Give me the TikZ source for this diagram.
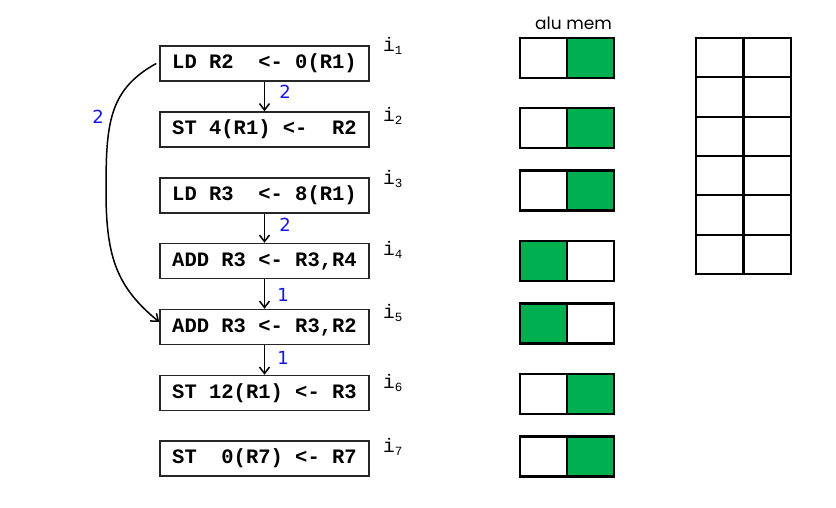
\documentclass[tikz,border=0pt]{standalone}
\usepackage{fontspec}
\setmainfont{Liberation Serif}
\setmonofont{Liberation Mono}
\newfontfamily\labfont{DejaVu Sans}
\newfontfamily\hdrfont{Poppins}
\usetikzlibrary{arrows.meta}
\definecolor{ggreen}{HTML}{00B050}
\definecolor{lblue}{HTML}{1414F0}
\newcommand{\isub}[1]{\texttt{i}\raisebox{-3.5pt}{\fontsize{12.5}{12.5}\selectfont #1}}
\begin{document}
\begin{tikzpicture}[x=1pt,y=-1pt,
 instr/.style={draw=black!85, line width=1.5pt, rectangle, minimum width=209pt, minimum height=35pt, inner sep=0pt, text height=14pt, text depth=4pt, font=\fontsize{20.5}{24}\selectfont\ttfamily\bfseries},
 dep/.style={line width=1.5pt, -{Straight Barb[length=6.5pt,width=10pt,line width=1.5pt]}},
 lat/.style={font=\fontsize{18}{20}\selectfont\labfont, text=lblue, inner sep=0pt},
 ilab/.style={anchor=base west, inner sep=0pt, font=\fontsize{19.5}{20}\selectfont\ttfamily},
 cell/.style={draw=black, line width=2.2pt, rectangle, minimum width=47pt, minimum height=40pt, inner sep=0pt},
 gcell/.style={draw=black, line width=2.2pt, rectangle, minimum width=47.5pt, minimum height=39.33pt, inner sep=0pt},
 green/.style={fill=ggreen},
]
\useasboundingbox[fill=white] (0,0) rectangle (836,507);

% instruction boxes
\node[instr] (i1) at (264.5,63.5) {LD R2\ \ <- 0(R1)};
\node[instr] (i2) at (264.5,129.5) {ST 4(R1) <-\ \ R2};
\node[instr] (i3) at (264.5,195.5) {LD R3\ \ <- 8(R1)};
\node[instr] (i4) at (264.5,261) {ADD R3 <- R3,R4};
\node[instr] (i5) at (264.5,327) {ADD R3 <- R3,R2};
\node[instr] (i6) at (264.5,393) {ST 12(R1) <- R3};
\node[instr] (i7) at (264.5,458.5) {ST\ \ 0(R7) <- R7};

% instruction labels
\node[ilab] (l1) at (383,51) {\isub{1}};
\node[ilab] (l2) at (383,121) {\isub{2}};
\node[ilab] (l3) at (383,184) {\isub{3}};
\node[ilab] (l4) at (383,255) {\isub{4}};
\node[ilab] (l5) at (383,318) {\isub{5}};
\node[ilab] (l6) at (383,388) {\isub{6}};
\node[ilab] (l7) at (383,452) {\isub{7}};

% dependences
\draw[dep] (i1.south) -- (i2.north);
\draw[dep] (i3.south) -- (i4.north);
\draw[dep] (i4.south) -- (i5.north);
\draw[dep] (i5.south) -- (i6.north);
\node[lat] (d1) at (285,92) {2};
\node[lat] (d2) at (285,225) {2};
\node[lat] (d3) at (283,295) {1};
\node[lat] (d4) at (283,358) {1};

\coordinate (cm) at (106,192);
\draw[dep] ([xshift=-3pt]i1.west) .. controls (108,90) and (106,125) .. (cm)
  .. controls (106,259) and (118,288) .. ([yshift=5pt]i5.west);
\node[lat] (d5) at (98,116.5) {2};

% resource header
\node[anchor=base, inner sep=0pt, font=\fontsize{17}{20}\selectfont\hdrfont] (hdr) at (573.5,29) {alu mem};

% resource usage per instruction
\node[cell] (a1) at (543.5,58) {};   \node[cell,green] (m1) at (590.5,58) {};
\node[cell] (a2) at (543.5,128) {};  \node[cell,green] (m2) at (590.5,128) {};
\node[cell] (a3) at (543.5,190.5) {};\node[cell,green] (m3) at (590.5,190.5) {};
\node[cell,green] (a4) at (543.5,261) {};\node[cell] (m4) at (590.5,261) {};
\node[cell,green] (a5) at (543.5,323.5) {};\node[cell] (m5) at (590.5,323.5) {};
\node[cell] (a6) at (543.5,394) {};  \node[cell,green] (m6) at (590.5,394) {};
\node[cell] (a7) at (543.5,456.5) {};\node[cell,green] (m7) at (590.5,456.5) {};

% schedule grid
\foreach \r in {0,...,5}{
  \node[gcell] (ga\r) at (719.75,{57.67+39.33*\r}) {};
  \node[gcell] (gm\r) at (767.25,{57.67+39.33*\r}) {};
}
\end{tikzpicture}
\end{document}
